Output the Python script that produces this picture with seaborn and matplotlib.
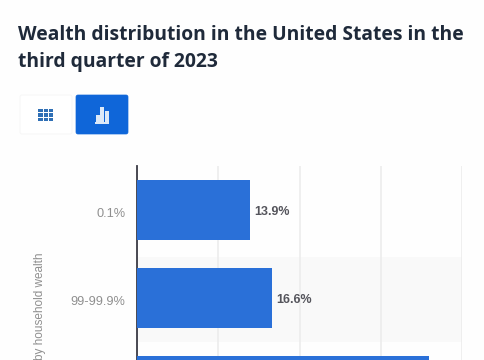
#!/usr/bin/env python3

import matplotlib.pyplot as plt
import pandas as pd
import seaborn as sns
from matplotlib.patches import FancyBboxPatch, Rectangle
from matplotlib.transforms import Affine2D, ScaledTranslation

W, H = 485, 360

categories = ["0.1%", "99-99.9%", "90-99%"]
shares = [13.9, 16.6, 35.9]
# the third row's labels fall below the crop, so they stay blank
tick_labels = ["0.1%", "99-99.9%", ""]
value_labels = ["13.9%", "16.6%", ""]
x_ticks = [0, 10, 20, 30, 40]

BLUE = "#2a70d8"
BUTTON = "#0f66d9"
LABEL_FONT = ["Liberation Sans", "DejaVu Sans"]


def px_box(fig, x, y, w, h, **kw):
    # rounded box given in image pixels, y going down
    trans = Affine2D().scale(1 / W, -1 / H).translate(0, 1) + fig.transFigure
    fig.add_artist(
        FancyBboxPatch(
            (x, y), w, h, boxstyle="round,pad=0,rounding_size=2", transform=trans, **kw
        )
    )


def px_rect(fig, x, y, w, h, color):
    trans = Affine2D().scale(1 / W, -1 / H).translate(0, 1) + fig.transFigure
    fig.add_artist(Rectangle((x, y), w, h, transform=trans, color=color, lw=0))


sns.set_theme(style="white")
plt.rcParams["font.family"] = ["Open Sans", "DejaVu Sans"]

fig = plt.figure(figsize=(W / 100, H / 100), dpi=100)
fig.patch.set_facecolor("#fefefe")

# axes run past the bottom edge, the chart is cut off in the reference
ax = fig.add_axes([137 / W, (H - 430) / H, 325 / W, 264 / H])
ax.axhspan(0.53, 1.5, color="#f9f9f9", lw=0, zorder=0)

df = pd.DataFrame({"group": categories, "share": shares})
sns.barplot(
    data=df, x="share", y="group", color=BLUE, saturation=1, width=0.69,
    linewidth=0, ax=ax, zorder=3,
)

ax.set_xlim(0, 40)
ax.set_ylim(2.5, -0.5)
ax.set_xticks(x_ticks)
ax.set_yticks(range(len(categories)))
ax.set_yticklabels(tick_labels, family=LABEL_FONT)
ax.xaxis.grid(True, color="#ececec", lw=1.2)
ax.set_axisbelow(True)
ax.tick_params(axis="x", bottom=False, labelbottom=False)
ax.tick_params(axis="y", left=False, pad=2.2, labelsize=9.2, labelcolor="#8f8f8f")
ax.set_xlabel("")
ax.set_ylabel("")
ax.set_facecolor("none")
for side in ["top", "right", "bottom"]:
    ax.spines[side].set_visible(False)
ax.spines["left"].set_color("#3a3a44")
ax.spines["left"].set_linewidth(1.3)

# labels sit a little below the bar centres
nudge = ScaledTranslation(0, -2 / 72, fig.dpi_scale_trans)
for label in ax.get_yticklabels():
    label.set_transform(label.get_transform() + nudge)

for i, val in enumerate(shares):
    if value_labels[i]:
        ax.annotate(
            value_labels[i],
            (val, i),
            xytext=(3, -1.6),
            textcoords="offset points",
            va="center",
            fontsize=9,
            fontweight="bold",
            family=LABEL_FONT,
            color="#55555c",
        )

fig.text(
    40.5 / W, 1 - 252 / H, "by household wealth",
    rotation=90, ha="center", va="top", fontsize=8.5, family=LABEL_FONT, color="#8f8f8f",
)

fig.text(
    18 / W, 1 - 35.5 / H, "Wealth distribution in the United States in the",
    fontsize=13.9, fontweight="bold", color="#1f2a3a", va="center",
)
fig.text(
    18 / W, 1 - 62.5 / H, "third quarter of 2023",
    fontsize=13.9, fontweight="bold", color="#1f2a3a", va="center",
)

# view toggle buttons
px_box(fig, 20, 95, 52, 39, facecolor="#ffffff", edgecolor="#f7f7f7", lw=0.8)
px_box(fig, 76, 95, 52, 39, facecolor=BUTTON, edgecolor=BUTTON, lw=0.5)
for col in range(3):
    for row in range(3):
        px_rect(fig, 38.5 + col * 5.2, 108.5 + row * 4.6, 4.4, 3.8, "#2f6fb5")
px_rect(fig, 96, 115, 4, 7, "#dce9f8")
px_rect(fig, 100.5, 107, 4, 15, "#dce9f8")
px_rect(fig, 105, 111, 4, 11, "#dce9f8")
px_rect(fig, 95.5, 122, 14, 1.5, "#dce9f8")

fig.savefig("out.png", dpi=100)
